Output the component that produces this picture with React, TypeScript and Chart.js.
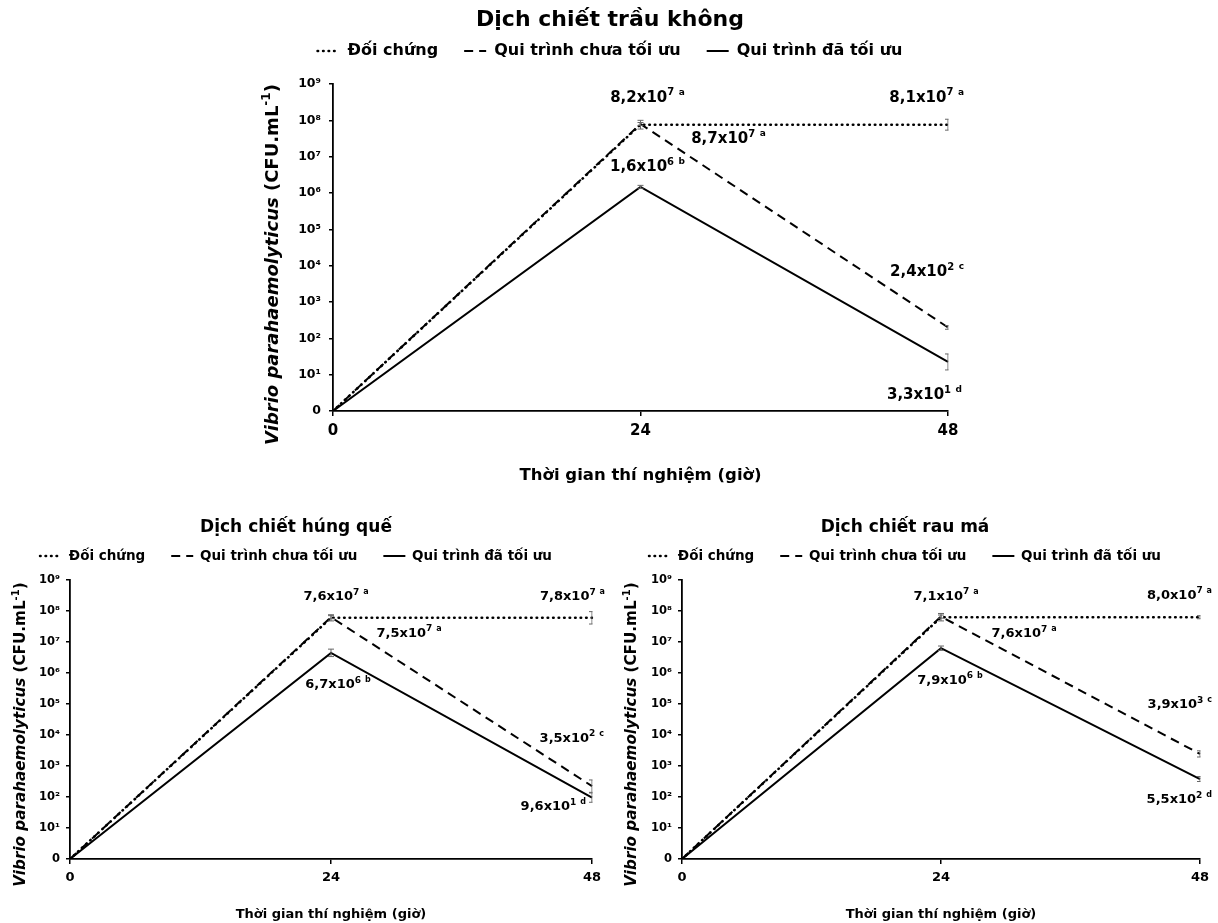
import React, { useEffect, useRef } from "react";
import { Chart, registerables } from "chart.js";

Chart.register(...registerables);

// ---------- DATA ----------
const timeLabels = ["0", "24", "48"];
const yTickLabels = ["0", "10¹", "10²", "10³", "10⁴", "10⁵", "10⁶", "10⁷", "10⁸", "10⁹"];
const seriesNames = ["Đối chứng", "Qui trình chưa tối ưu", "Qui trình đã tối ưu"];
const xTitle = "Thời gian thí nghiệm (giờ)";
const yTitleItalic = "Vibrio parahaemolyticus";
const yTitleRest = " (CFU.mL";
const yTitleSup = "-1";
const yTitleEnd = ")";

// values in log10(CFU/mL)
const trauKhongTitle = "Dịch chiết trầu không";
const trauKhongControl = [0, 7.88, 7.88];
const trauKhongUnopt = [0, 7.9, 2.3];
const trauKhongOpt = [0, 6.17, 1.35];
const trauKhongErrControl = [0, 0.12, 0.15];
const trauKhongErrUnopt = [0, 0.04, 0.05];
const trauKhongErrOpt = [0, 0.04, 0.22];
// notes: control@24, control@48, unopt@24, unopt@48, opt@24, opt@48
const trauKhongNotes = [["8,2", "7", "a"], ["8,1", "7", "a"], ["8,7", "7", "a"], ["2,4", "2", "c"], ["1,6", "6", "b"], ["3,3", "1", "d"]];

const hungQueTitle = "Dịch chiết húng quế";
const hungQueControl = [0, 7.78, 7.78];
const hungQueUnopt = [0, 7.8, 2.35];
const hungQueOpt = [0, 6.65, 1.98];
const hungQueErrControl = [0, 0.1, 0.2];
const hungQueErrUnopt = [0, 0.05, 0.2];
const hungQueErrOpt = [0, 0.12, 0.15];
const hungQueNotes = [["7,6", "7", "a"], ["7,8", "7", "a"], ["7,5", "7", "a"], ["3,5", "2", "c"], ["6,7", "6", "b"], ["9,6", "1", "d"]];

const rauMaTitle = "Dịch chiết rau má";
const rauMaControl = [0, 7.8, 7.8];
const rauMaUnopt = [0, 7.82, 3.39];
const rauMaOpt = [0, 6.8, 2.58];
const rauMaErrControl = [0, 0.12, 0.05];
const rauMaErrUnopt = [0, 0.05, 0.1];
const rauMaErrOpt = [0, 0.07, 0.08];
const rauMaNotes = [["7,1", "7", "a"], ["8,0", "7", "a"], ["7,6", "7", "a"], ["3,9", "3", "c"], ["7,9", "6", "b"], ["5,5", "2", "d"]];

// ---------- STYLE / LAYOUT ----------
const FONT = "'DejaVu Sans', sans-serif";
const noteTargets = [[0, 1], [0, 2], [1, 1], [1, 2], [2, 1], [2, 2]];

type Layout = {
  left: number; top: number; w: number; h: number;
  padLeft: number; yWidth: number; padRight: number; plotTop: number; plotBottom: number;
  titleSize: number; titleCenter: number;
  legendSize: number; legendGap: number; legendCenter: number; legendBox: number;
  tickSize: number; tickPad: number; xTickSize: number; xTitleSize: number; xTitleCenter: number;
  yTitleSize: number; yTitleX: number; yTitleShift: number; noteSize: number;
  noteOffsets: [number, number, string][];
};

const layout1: Layout = {
  left: 240, top: 0, w: 745, h: 490,
  padLeft: 32, yWidth: 61, padRight: 37, plotTop: 84, plotBottom: 411,
  titleSize: 22, titleCenter: 20,
  legendSize: 16, legendGap: 26, legendCenter: 51, legendBox: 22,
  tickSize: 12.5, tickPad: 8, xTickSize: 15, xTitleSize: 16.5, xTitleCenter: 476,
  yTitleSize: 18, yTitleX: 33, yTitleShift: 17, noteSize: 15,
  noteOffsets: [[7, -27, "center"], [16, -27, "right"], [88, 15, "center"], [16, -55, "right"], [7, -20, "center"], [14, 33, "right"]],
};
const layout2: Layout = {
  left: 0, top: 490, w: 610, h: 433,
  padLeft: 0, yWidth: 70, padRight: 18, plotTop: 90, plotBottom: 369,
  titleSize: 17, titleCenter: 38,
  legendSize: 13.5, legendGap: 26, legendCenter: 66, legendBox: 22,
  tickSize: 11.5, tickPad: 6, xTickSize: 13, xTitleSize: 13, xTitleCenter: 425,
  yTitleSize: 15.2, yTitleX: 21, yTitleShift: 15, noteSize: 13,
  noteOffsets: [[5, -21, "center"], [13, -21, "right"], [78, 16, "center"], [12, -48, "right"], [7, 32, "center"], [-6, 9, "right"]],
};
const layout3: Layout = {
  ...layout2,
  left: 610, w: 608, yWidth: 72, padRight: 18, yTitleX: 22,
  noteOffsets: [[5, -21, "center"], [12, -22, "right"], [83, 17, "center"], [12, -49, "right"], [9, 32, "center"], [12, 21, "right"]],
};

type Spec = {
  title: string; control: number[]; unopt: number[]; opt: number[];
  errs: number[][]; notes: string[][]; layout: Layout;
};

const specs: Spec[] = [
  { title: trauKhongTitle, control: trauKhongControl, unopt: trauKhongUnopt, opt: trauKhongOpt,
    errs: [trauKhongErrControl, trauKhongErrUnopt, trauKhongErrOpt], notes: trauKhongNotes, layout: layout1 },
  { title: hungQueTitle, control: hungQueControl, unopt: hungQueUnopt, opt: hungQueOpt,
    errs: [hungQueErrControl, hungQueErrUnopt, hungQueErrOpt], notes: hungQueNotes, layout: layout2 },
  { title: rauMaTitle, control: rauMaControl, unopt: rauMaUnopt, opt: rauMaOpt,
    errs: [rauMaErrControl, rauMaErrUnopt, rauMaErrOpt], notes: rauMaNotes, layout: layout3 },
];

function font(size: number, style = "normal") {
  return `${style} bold ${size}px ${FONT}`;
}

function makeConfig(spec: Spec): any {
  const L = spec.layout;
  const titleLH = L.titleSize * 1.2;
  const legendTop = L.legendCenter - L.legendGap - L.legendSize / 2;
  const titlePadBottom = legendTop - (L.titleCenter - titleLH / 2) - titleLH;
  const legendBottom = legendTop + L.legendSize + L.legendGap + 10;
  const gapAbovePlot = L.plotTop - legendBottom;
  const xTitleLH = L.xTitleSize * 1.2;

  const errorBars = {
    id: "errorBars",
    afterDatasetsDraw(chart: any) {
      const { ctx, chartArea } = chart;
      const y = chart.scales.y;
      ctx.save();
      ctx.beginPath();
      ctx.rect(chartArea.left - 5, chartArea.top - 20, chartArea.right - chartArea.left + 5.5, chartArea.bottom - chartArea.top + 20);
      ctx.clip();
      ctx.strokeStyle = "#666";
      ctx.lineWidth = 1;
      spec.errs.forEach((errArr, di) => {
        const meta = chart.getDatasetMeta(di);
        const vals = chart.data.datasets[di].data;
        errArr.forEach((e, i) => {
          if (!e) return;
          const px = meta.data[i].x;
          const y1 = y.getPixelForValue(vals[i] + e);
          const y2 = y.getPixelForValue(vals[i] - e);
          ctx.beginPath();
          ctx.moveTo(px, y1); ctx.lineTo(px, y2);
          ctx.moveTo(px - 3, y1); ctx.lineTo(px + 3, y1);
          ctx.moveTo(px - 3, y2); ctx.lineTo(px + 3, y2);
          ctx.stroke();
        });
      });
      ctx.restore();
    },
  };

  const notesPlugin = {
    id: "notes",
    afterDraw(chart: any) {
      const { ctx } = chart;
      ctx.save();
      ctx.fillStyle = "#000";
      ctx.textBaseline = "middle";
      ctx.textAlign = "left";
      const base = L.noteSize;
      const supSize = Math.round(base * 0.68);
      const letSize = Math.round(base * 0.6);
      spec.notes.forEach((n, k) => {
        const [di, pi] = noteTargets[k];
        const pt = chart.getDatasetMeta(di).data[pi];
        const [dx, dy, align] = L.noteOffsets[k];
        const t1 = n[0] + "x10";
        ctx.font = font(base);
        const w1 = ctx.measureText(t1).width;
        ctx.font = font(supSize);
        const w2 = ctx.measureText(n[1]).width;
        ctx.font = font(letSize);
        const w3 = ctx.measureText(n[2]).width;
        const gap = base * 0.3;
        const total = w1 + w2 + gap + w3;
        let x = pt.x + dx;
        if (align === "center") x -= total / 2;
        else if (align === "right") x -= total;
        const yy = pt.y + dy;
        ctx.font = font(base);
        ctx.fillText(t1, x, yy);
        ctx.font = font(supSize);
        ctx.fillText(n[1], x + w1, yy - base * 0.32);
        ctx.font = font(letSize);
        ctx.fillText(n[2], x + w1 + w2 + gap, yy - base * 0.36);
      });
      ctx.restore();
    },
  };

  const yTitlePlugin = {
    id: "yTitle",
    afterDraw(chart: any) {
      const { ctx, chartArea } = chart;
      const s = L.yTitleSize;
      const sup = Math.round(s * 0.65);
      ctx.save();
      ctx.translate(L.yTitleX, (chartArea.top + chartArea.bottom) / 2 + L.yTitleShift);
      ctx.rotate(-Math.PI / 2);
      ctx.fillStyle = "#000";
      ctx.textBaseline = "middle";
      ctx.textAlign = "left";
      const parts: [string, string, number, number][] = [
        [yTitleItalic, "italic", s, 0],
        [yTitleRest, "normal", s, 0],
        [yTitleSup, "normal", sup, -s * 0.33],
        [yTitleEnd, "normal", s, 0],
      ];
      let total = 0;
      const widths = parts.map(([t, st, sz]) => {
        ctx.font = font(sz, st);
        const w = ctx.measureText(t).width;
        total += w;
        return w;
      });
      let x = -total / 2;
      parts.forEach(([t, st, sz, off], i) => {
        ctx.font = font(sz, st);
        ctx.fillText(t, x, off);
        x += widths[i];
      });
      ctx.restore();
    },
  };

  return {
    type: "line",
    data: {
      labels: timeLabels,
      datasets: [
        { label: seriesNames[0], data: spec.control, borderColor: "#000", backgroundColor: "#000",
          borderWidth: 2.6, borderDash: [0.5, 5], borderCapStyle: "round", pointRadius: 0, tension: 0 },
        { label: seriesNames[1], data: spec.unopt, borderColor: "#000", backgroundColor: "#000",
          borderWidth: 2, borderDash: [9, 6], pointRadius: 0, tension: 0 },
        { label: seriesNames[2], data: spec.opt, borderColor: "#000", backgroundColor: "#000",
          borderWidth: 2, pointRadius: 0, tension: 0 },
      ],
    },
    options: {
      responsive: false,
      animation: false,
      devicePixelRatio: 1,
      layout: { padding: { left: L.padLeft, right: L.padRight, top: 0, bottom: 0 } },
      plugins: {
        title: {
          display: true, text: spec.title, color: "#000",
          font: { family: FONT, size: L.titleSize, weight: "bold" },
          padding: { top: L.titleCenter - titleLH / 2, bottom: titlePadBottom },
        },
        legend: {
          display: true, position: "top",
          labels: {
            color: "#000", usePointStyle: true, pointStyle: "line", pointStyleWidth: L.legendBox,
            padding: L.legendGap,
            font: { family: FONT, size: L.legendSize, weight: "bold" },
            generateLabels: (chart: any) =>
              chart.data.datasets.map((ds: any, i: number) => ({
                text: ds.label,
                fillStyle: "#000",
                strokeStyle: "#000",
                fontColor: "#000",
                lineWidth: ds.borderWidth,
                lineDash: ds.borderDash || [],
                lineCap: ds.borderCapStyle || "butt",
                pointStyle: "line",
                hidden: false,
                datasetIndex: i,
              })),
          },
        },
        tooltip: { enabled: false },
      },
      scales: {
        x: {
          type: "category", position: "bottom",
          grid: { display: true, drawOnChartArea: false, drawTicks: true, tickLength: 5, color: "#000", lineWidth: 1.5 },
          border: { display: true, color: "#000", width: 1.8 },
          ticks: { color: "#000", padding: 6, font: { family: FONT, size: L.xTickSize, weight: "bold" } },
          title: {
            display: true, text: xTitle, color: "#000",
            font: { family: FONT, size: L.xTitleSize, weight: "bold" },
            padding: { top: 0, bottom: L.h - L.xTitleCenter - xTitleLH / 2 },
          },
          afterFit: (s: any) => { s.height = L.h - L.plotBottom; },
        },
        xTop: {
          type: "category", position: "top", labels: timeLabels,
          grid: { display: false }, border: { display: false }, ticks: { display: false },
          afterFit: (s: any) => { s.height = gapAbovePlot; },
        },
        y: {
          type: "linear", min: 0, max: 9,
          grid: { display: true, drawOnChartArea: false, drawTicks: true, tickLength: 4, color: "#000", lineWidth: 1.5 },
          border: { display: true, color: "#000", width: 1.8 },
          ticks: {
            stepSize: 1, color: "#000", padding: L.tickPad,
            font: { family: FONT, size: L.tickSize, weight: "bold" },
            callback: (v: any) => yTickLabels[v],
          },
          afterFit: (s: any) => { s.width = L.yWidth; },
        },
      },
    },
    plugins: [errorBars, notesPlugin, yTitlePlugin],
  };
}

function ChartPanel({ spec }: { spec: Spec }) {
  const ref = useRef<HTMLCanvasElement | null>(null);
  useEffect(() => {
    if (!ref.current) return;
    const chart = new Chart(ref.current, makeConfig(spec));
    return () => chart.destroy();
  }, [spec]);
  const L = spec.layout;
  return (
    <div style={{ position: "absolute", left: L.left, top: L.top, width: L.w, height: L.h }}>
      <canvas ref={ref} width={L.w} height={L.h} style={{ width: L.w, height: L.h, display: "block" }} />
    </div>
  );
}

export default function App() {
  return (
    <div style={{ position: "absolute", left: 0, top: 0, width: 1218, height: 923, background: "#fff", overflow: "hidden" }}>
      {specs.map((s, i) => (
        <ChartPanel key={i} spec={s} />
      ))}
    </div>
  );
}
